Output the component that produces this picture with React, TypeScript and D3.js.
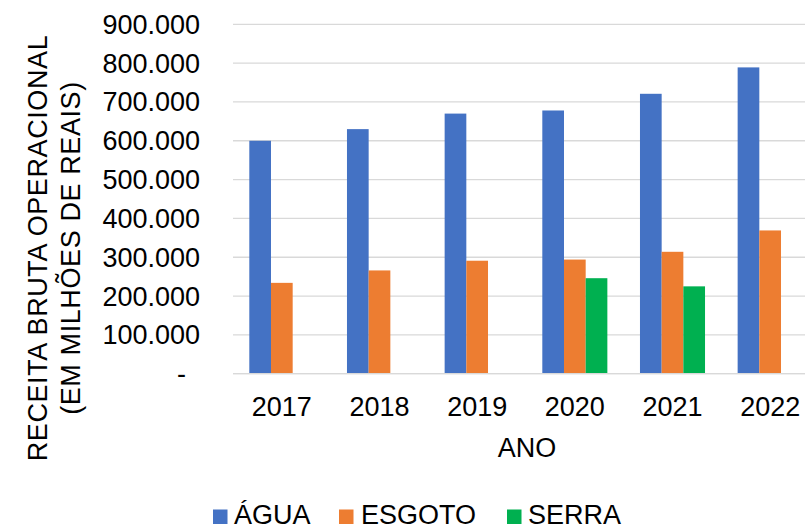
import React from "react";
import * as d3 from "d3";

const years = ["2017", "2018", "2019", "2020", "2021", "2022"];
const agua = [600000, 630000, 670000, 678000, 721000, 789000];
const esgoto = [234000, 266000, 291000, 294000, 314000, 369000];
const serra = [null, null, null, 246000, 225000, null];
const seriesNames = ["ÁGUA", "ESGOTO", "SERRA"];
const seriesColors = ["#4472C4", "#ED7D31", "#00B050"];
const yTicks = [0, 100000, 200000, 300000, 400000, 500000, 600000, 700000, 800000, 900000];

const W = 805;
const H = 531;
const FONT = "'Liberation Sans', Arial, sans-serif";

const locale = d3.formatLocale({ decimal: ",", thousands: ".", grouping: [3], currency: ["R$", ""] });
const fmt = locale.format(",.0f");

export default function App() {
  const seriesData = [agua, esgoto, serra];
  const x0 = d3.scaleBand<string>().domain(years).range([233, 819]).paddingInner(0.334).paddingOuter(0.167);
  const x1 = d3.scaleBand<string>().domain(seriesNames).range([0, x0.bandwidth()]).padding(0);
  const y = d3.scaleLinear().domain([0, 900000]).range([373.7, 24.3]);

  const legendItems = [
    { sq: 213, tx: 234 },
    { sq: 339, tx: 361 },
    { sq: 507, tx: 528 },
  ];
  const legendBase = 524;

  return (
    <svg width={W} height={H} style={{ position: "absolute", left: 0, top: 0, background: "#fff" }} fontFamily={FONT}>
      <rect x={0} y={0} width={W} height={H} fill="#fff" />
      {yTicks.map((t) => (
        <line key={"g" + t} x1={233} x2={W} y1={y(t)} y2={y(t)} stroke="#d9d9d9" strokeWidth={1.3} />
      ))}
      {yTicks.map((t) => (
        <text key={"t" + t} x={t === 0 ? 186 : 200} y={y(t)} dy="0.35em" textAnchor="end" fontSize={27} fill="#000">
          {t === 0 ? "-" : fmt(t)}
        </text>
      ))}
      {years.map((yr, i) => (
        <g key={yr} transform={`translate(${x0(yr)},0)`}>
          {seriesNames.map((s, j) => {
            const v = seriesData[j][i];
            if (v == null) return null;
            return (
              <rect
                key={s}
                x={x1(s)}
                y={y(v)}
                width={x1.bandwidth()}
                height={y(0) - y(v)}
                fill={seriesColors[j]}
              />
            );
          })}
        </g>
      ))}
      <line x1={233} x2={W} y1={y(0)} y2={y(0)} stroke="#d9d9d9" strokeWidth={1.3} />
      {years.map((yr) => (
        <text key={"x" + yr} x={(x0(yr) as number) + x0.bandwidth() / 2} y={416} textAnchor="middle" fontSize={27} fill="#000">
          {yr}
        </text>
      ))}
      <text x={527} y={457} textAnchor="middle" fontSize={27} fill="#000">ANO</text>
      <text transform="translate(47,248) rotate(-90)" textAnchor="middle" fontSize={27} letterSpacing={0.6} fill="#000">
        RECEITA BRUTA OPERACIONAL
      </text>
      <text transform="translate(80,248) rotate(-90)" textAnchor="middle" fontSize={27} letterSpacing={0.6} fill="#000">
        (EM MILHÕES DE REAIS)
      </text>
      {seriesNames.map((s, j) => (
        <g key={"l" + s}>
          <rect x={legendItems[j].sq} y={legendBase - 14.5} width={14.5} height={14.5} fill={seriesColors[j]} />
          <text x={legendItems[j].tx} y={legendBase} fontSize={27} fill="#000">{s}</text>
        </g>
      ))}
    </svg>
  );
}
